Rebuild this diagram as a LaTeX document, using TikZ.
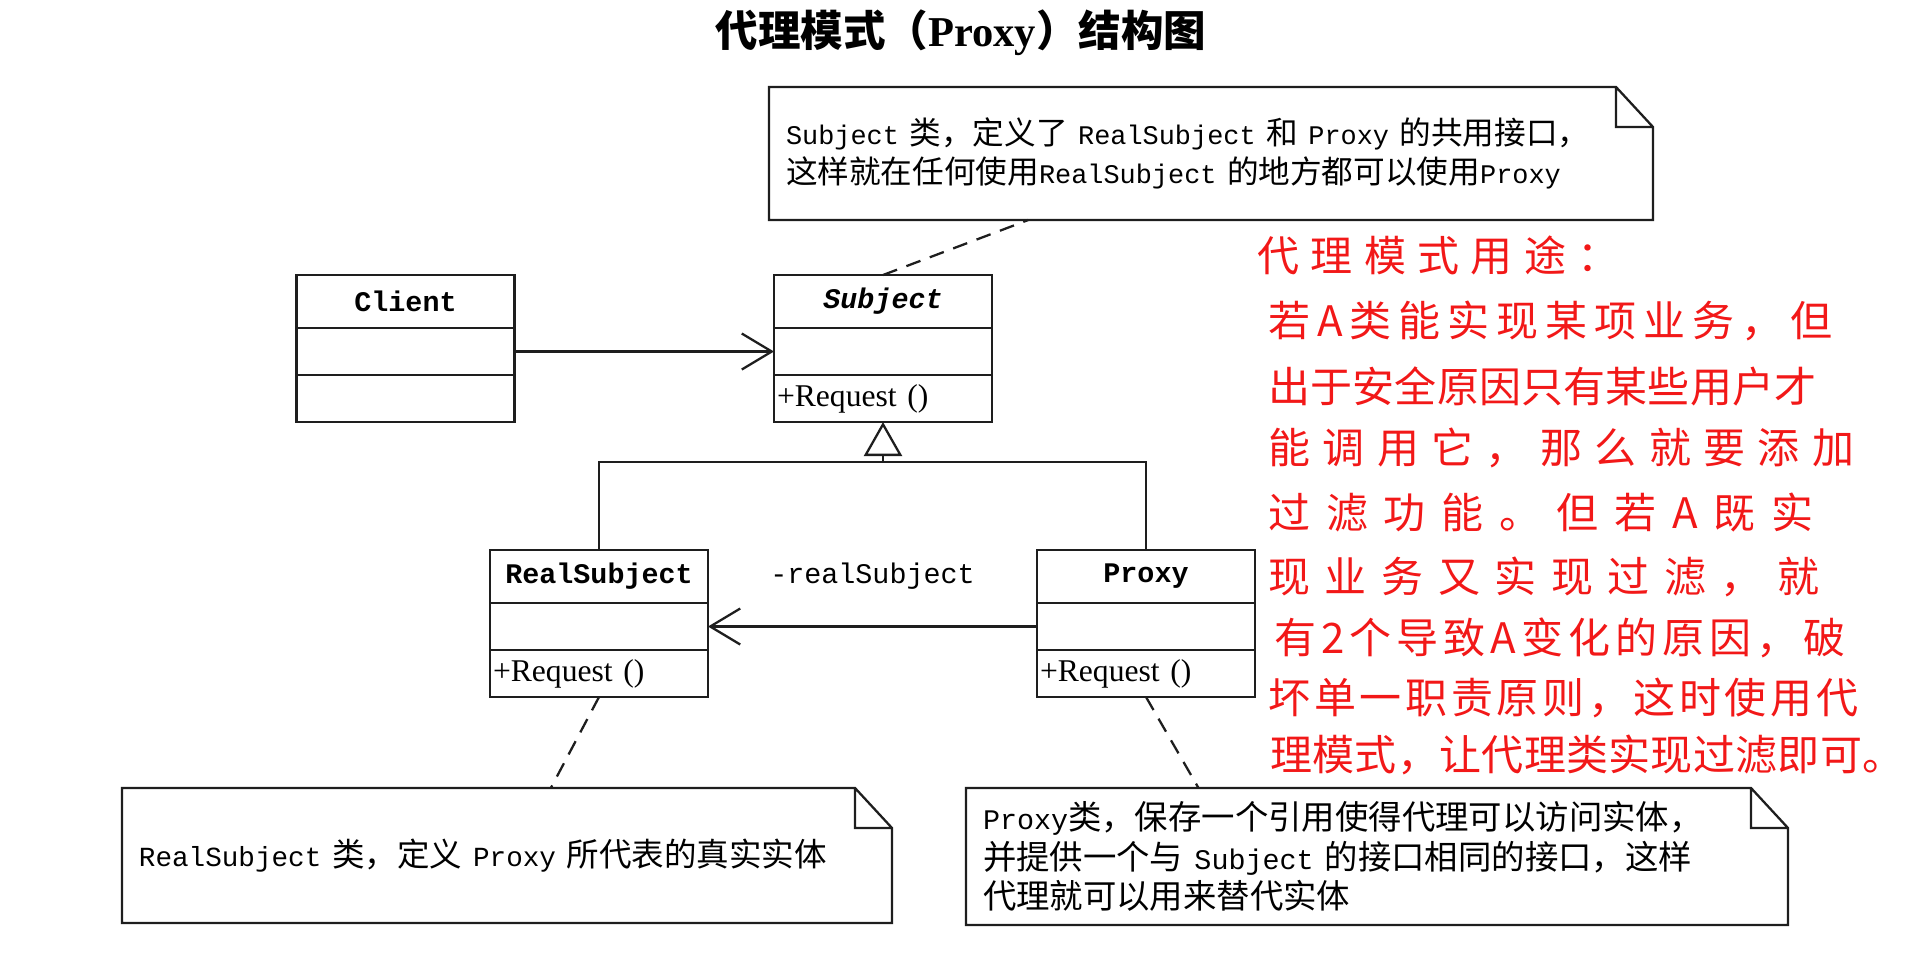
\documentclass[tikz,border=0pt]{standalone}
\usepackage{fontspec}
\setmainfont{Liberation Serif}
\setmonofont{Liberation Mono}[Scale=0.85]
\newfontfamily\cjk{Noto Sans CJK SC}
\usetikzlibrary{arrows.meta,positioning}

\definecolor{penred}{RGB}{242,24,24}
\definecolor{inkline}{RGB}{30,30,30}

% one pixel of the 1908 x 952 sheet
\newdimen\px \px=0.2mm
% spread a line of characters to a given width
\def\spreadfirst#1{#1\spreadrest}
\def\spreadrest#1{\ifx\relax#1\else\hfill#1\expandafter\spreadrest\fi}
\newcommand\spreadto[2]{\hbox to #1\px{\expandafter\spreadfirst#2\relax}}

\tikzset{
  clshead/.style={draw=inkline, line width=1.3pt, minimum width=43.6mm, minimum height=10.6mm,
    inner sep=0pt, outer sep=0pt, font=\ttfamily\bfseries},
  clspart/.style={draw=inkline, line width=1.3pt, minimum width=43.6mm, minimum height=9.4mm,
    inner xsep=0.6mm, inner ysep=0pt, outer sep=0pt, text width=42.4mm, align=left,
    font=\fontsize{18}{22}\selectfont},
  note/.style={inner xsep=3.4mm, inner ysep=0pt, outer sep=0pt, align=left,
    font=\cjk\fontsize{#1}{22.5}\selectfont},
  notelink/.style={draw=inkline, line width=1.3pt, dash pattern=on 3mm off 2mm},
  assoc/.style={draw=inkline, line width=1.3pt, -{Straight Barb[length=6mm, width=7.2mm]}},
  inherit/.style={draw=inkline, line width=1.3pt, -{Triangle[open, length=6.8mm, width=7.6mm]}},
  pen/.style={anchor=base west, inner sep=0pt, text=penred, font=\cjk\fontsize{23.9}{28}\selectfont}
}

\begin{document}
\fontsize{19}{22.5}\selectfont
\begin{tikzpicture}[x=0.2mm, y=-0.2mm]
  \useasboundingbox (0,0) rectangle (1908,952);

  % Title
  \node[font=\bfseries\fontsize{24.2}{28}\selectfont] (title) at (961,33)
    {{\cjk 代理模式（}Proxy{\cjk ）结构图}};

  % Client
  \node[clshead] (client) at (405.5,301.5) {Client};
  \node[clspart, below=0pt of client] (client-attr) {};
  \node[clspart, below=0pt of client-attr] (client-op) {};

  % Subject (abstract)
  \node[clshead] (subject) at (883,301.5) {\itshape Subject};
  \node[clspart, below=0pt of subject] (subject-attr) {};
  \node[clspart, below=0pt of subject-attr] (subject-op) {+Request ()};

  % RealSubject
  \node[clshead] (realsubject) at (599,576.5) {RealSubject};
  \node[clspart, below=0pt of realsubject] (realsubject-attr) {};
  \node[clspart, below=0pt of realsubject-attr] (realsubject-op) {+Request ()};

  % Proxy
  \node[clshead] (proxy) at (1146,576.5) {Proxy};
  \node[clspart, below=0pt of proxy] (proxy-attr) {};
  \node[clspart, below=0pt of proxy-attr] (proxy-op) {+Request ()};

  % Associations
  \draw[assoc] (client-attr.east) -- (subject-attr.west);
  \draw[assoc] (proxy-attr.west) -- node[above=5mm, font=\ttfamily] (role) {-realSubject}
    (realsubject-attr.east);

  % Generalisation
  \coordinate (hub) at (883,462);
  \draw[draw=inkline, line width=1.3pt] (realsubject.north) |- (hub) -| (proxy.north);
  \draw[inherit] (hub) -- (subject-op.south);

  % Notes
  \node[note=18, text width=170mm, minimum height=26.6mm] (topnote) at (1211,153.5)
    {\texttt{Subject} 类，定义了 \texttt{RealSubject} 和 \texttt{Proxy} 的共用接口，\\
     这样就在任何使用\texttt{RealSubject} 的地方都可以使用\texttt{Proxy}};
  \node[note=18.5, text width=147.2mm, minimum height=27mm] (realnote) at (507,855.5)
    {\texttt{RealSubject} 类，定义 \texttt{Proxy} 所代表的真实实体};
  \node[note=19, text width=157.6mm, minimum height=27.4mm] (proxynote) at (1377,856.5)
    {\texttt{Proxy}类，保存一个引用使得代理可以访问实体，\\
     并提供一个与 \texttt{Subject} 的接口相同的接口，这样\\
     代理就可以用来替代实体};

  \foreach \n in {topnote,realnote,proxynote}
    \draw[draw=inkline, line width=1.3pt] (\n.south west) -- (\n.north west)
      -- ([xshift=-7.4mm]\n.north east) -- ([yshift=-8mm]\n.north east)
      -- (\n.south east) -- cycle
      ([xshift=-7.4mm]\n.north east) |- ([yshift=-8mm]\n.north east);

  % Note links
  \draw[notelink] (subject.north) -- (topnote.200);
  \draw[notelink] (realsubject-op.south) -- (realnote.57);
  \draw[notelink] (proxy-op.south) -- (proxynote.159);

  % Handwritten remark
  \foreach \x/\y/\w/\txt [count=\i] in {
      1257/271/362/代理模式用途：,
      1268/336/564/若A类能实现某项业务，但,
      1268/402/548/出于安全原因只有某些用户才,
      1268/463/586/能调用它，那么就要添加,
      1268/528/545/过滤功能。但若A既实,
      1268/592/551/现业务又实现过滤，就,
      1274/653/571/有2个导致A变化的原因，破,
      1268/713/590/坏单一职责原则，这时使用代,
      1270/770/634/理模式，让代理类实现过滤即可。}
    \node[pen] (use\i) at (\x,\y) {\spreadto{\w}{\txt}};
\end{tikzpicture}
\end{document}
